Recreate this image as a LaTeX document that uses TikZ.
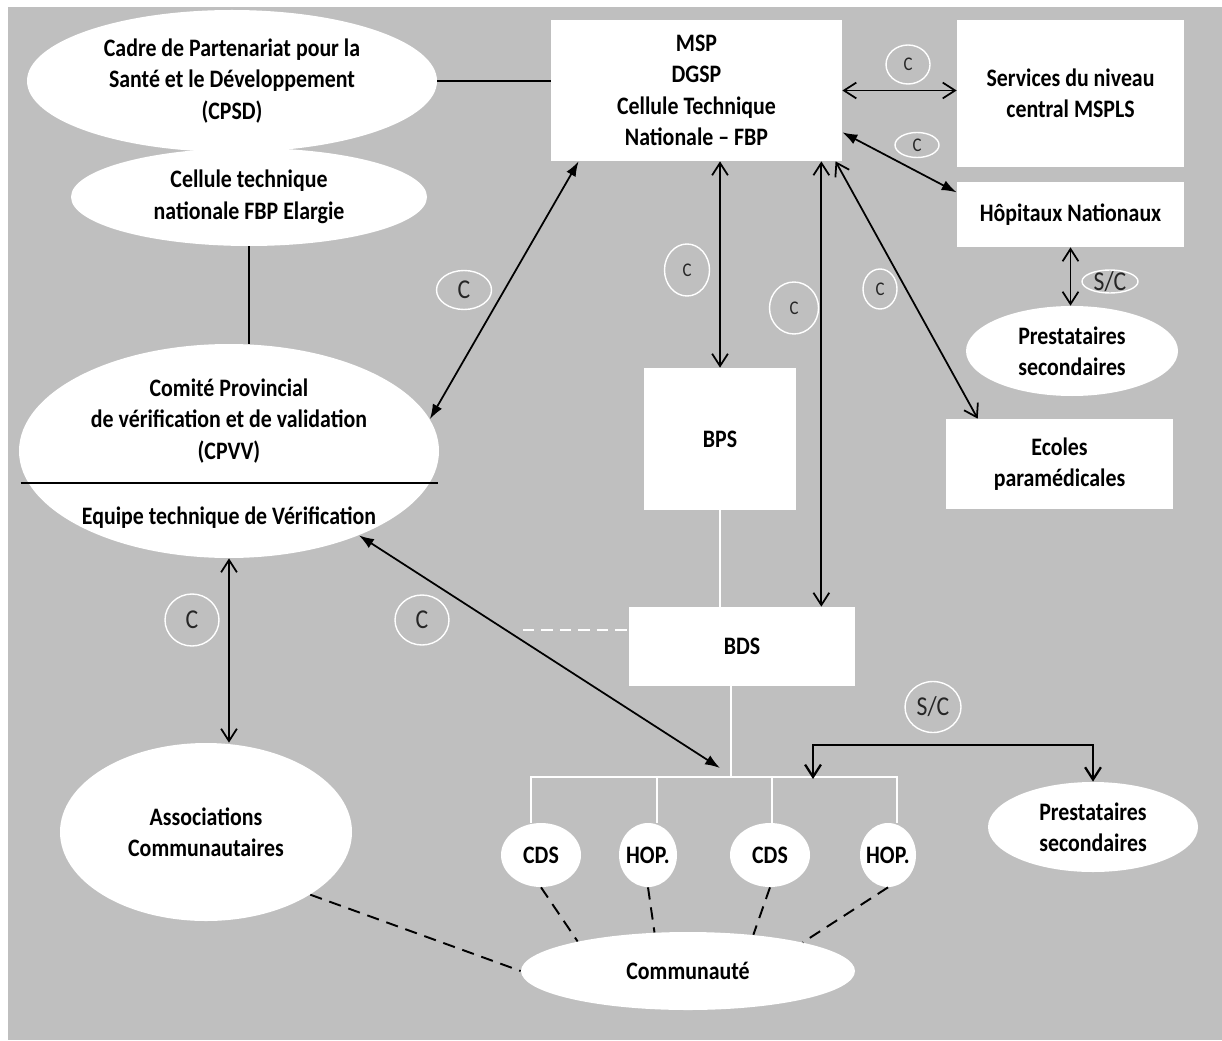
\documentclass[tikz,border=0pt]{standalone}
\usepackage{fontspec}
\setmainfont{Carlito}[FakeStretch=0.87]
\usetikzlibrary{arrows.meta, calc, positioning, shapes.geometric}
\definecolor{panel}{RGB}{191,191,191}

\begin{document}
\begin{tikzpicture}[
	x=0.02cm, y=-0.02cm,
	every node/.style = {align=center, inner sep=0pt, font=\fontsize{14.3}{17.9}\selectfont\bfseries},
	white box/.style 2 args = {rectangle, fill=white, minimum width=#1*0.02cm, minimum height=#2*0.02cm},
	white oval/.style 2 args = {ellipse, fill=white, minimum width=#1*0.02cm, minimum height=#2*0.02cm},
	link tag/.style 2 args = {ellipse, draw=white, line width=0.8pt, inner sep=-4pt, minimum width=#1*0.02cm, minimum height=#2*0.02cm, text=black!85, font=\fontsize{15.5}{15.5}\selectfont},
	small tag/.style = {font=\fontsize{11}{11}\selectfont},
	plain line/.style = {draw=black, line width=1pt},
	open arrows/.style = {draw=black, line width=1pt, {Straight Barb[length=7pt, width=9pt]}-{Straight Barb[length=7pt, width=9pt]}},
	solid arrows/.style = {draw=black, line width=1pt, {Latex[length=8.5pt, width=6pt]}-{Latex[length=8.5pt, width=6pt]}},
	sc arrows/.style = {draw=black, line width=1.3pt, {Straight Barb[length=7pt, width=9pt]}-{Straight Barb[length=7pt, width=9pt]}},
	white line/.style = {draw=white, line width=0.9pt},
	white dashed/.style = {draw=white, line width=1pt, dash pattern=on 6.5pt off 4pt},
	dash line/.style = {draw=black, line width=1.1pt, dash pattern=on 7pt off 4.5pt}
]

\useasboundingbox (0,0) rectangle (1222,1040);
\fill[panel] (8,7) rectangle (1222,1040);

% national level
\node[white oval={410}{142}] (cpsd) at (232,81) {Cadre de Partenariat pour la\\Santé et le Développement\\(CPSD)};
\node[white oval={356}{98}] (fbpe) at (249,197) {Cellule technique\\nationale FBP Elargie};
\node[white box={291}{141}] (msp) at (696.5,90.5) {MSP\\DGSP\\Cellule Technique\\Nationale -- FBP};
\node[white box={227}{147}] (services) at (1070.5,93.5) {Services du niveau\\central MSPLS};
\node[white box={227}{65}] (hopnat) at (1070.5,214.5) {Hôpitaux Nationaux};
\node[white oval={212}{90}] (prest1) at (1072,351) {Prestataires\\secondaires};
\node[white box={227}{90}] (ecoles) at (1059.5,464) {Ecoles\\paramédicales};

% provincial level
\node[white oval={420}{214}] (cpvv) at (229,451) {};
\node (cpvvtext) at (229,421) {Comité Provincial\\de vérification et de validation\\(CPVV)};
\node (etv) at (229,518) {Equipe technique de Vérification};
\node[white box={152}{142}] (bps) at (720,439) {BPS};

% district level
\node[white box={226}{79}] (bds) at (742,646.5) {BDS};
\node[white oval={292}{178}] (assoc) at (206,832) {Associations\\Communautaires};
\node[white oval={80}{64}] (cds1) at (541,855) {CDS};
\node[white oval={58}{64}, inner xsep=-3.5pt] (hop1) at (648,855) {HOP.};
\node[white oval={80}{64}] (cds2) at (770,855) {CDS};
\node[white oval={56}{64}, inner xsep=-3.5pt] (hop2) at (888,855) {HOP.};
\node[white oval={210}{90}] (prest2) at (1093,827) {Prestataires\\secondaires};
\node[white oval={334}{78}] (comm) at (688,971) {Communauté};

% connectors
\draw[plain line] (cpsd.east) -- (cpsd.east -| msp.west);
\draw[plain line] (fbpe.south) -- (fbpe.south |- cpvv.north);
\draw[plain line] ($(cpvv.west)+(2,32)$) -- ($(cpvv.east)+(-1,32)$);
\draw[solid arrows] (msp.211) -- (cpvv.9);
\draw[open arrows] (msp.east) -- (msp.east -| services.west);
\draw[solid arrows] (msp.-16) -- (hopnat.169);
\draw[open arrows] (hopnat.south) -- (hopnat.south |- prest1.north);
\draw[open arrows] (bps.north |- msp.south) -- (bps.north);
\coordinate (bdsin) at ($(bds.north west)!0.85!(bds.north east)$);
\draw[open arrows] (bdsin |- msp.south) -- (bdsin);
\draw[open arrows] (msp.-27) -- (ecoles.151);
\draw[white line] (bps.south) -- (bps.south |- bds.north);
\coordinate (vlink) at (523,630);
\draw[white dashed] (vlink) -- (vlink -| bds.west);
\coordinate (bus) at (731,777);
\draw[white line] (bus |- bds.south) -- (bus);
\draw[white line] ($(cds1.north)+(-10,0)$) |- (bus) -| ($(hop2.north)+(9,0)$);
\draw[white line] ($(hop1.north)+(9,0)$) -- ++(0,-46);
\draw[white line] ($(cds2.north)+(2,0)$) -- ++(0,-46);
\coordinate (ctip) at (720,768);
\draw[solid arrows] (cpvv.-33) -- (ctip);
\draw[open arrows] (cpvv.south) -- (cpvv.south |- assoc.north);
\coordinate (scfoot) at (813,779);
\draw[sc arrows] (scfoot) -- ++(0,-34) -| (prest2.north);
\draw[dash line] (cds1.south) -- (comm.165);
\draw[dash line] (hop1.south) -- (comm.131);
\draw[dash line] (cds2.south) -- (comm.29);
\draw[dash line] (hop2.south) -- (comm.14);
\draw[dash line] (assoc.-31.5) -- (comm.west);

% link tags
\node[link tag={44}{39}, small tag] (tserv) at (908,64.5) {C};
\node[link tag={44}{25}, small tag] (thop) at (917,145) {C};
\node[link tag={55}{39}] (tcpvv) at (464,290) {C};
\node[link tag={45}{52}, small tag] (tbps) at (687,270) {C};
\node[link tag={49}{52}, small tag] (tbds) at (794,308) {C};
\node[link tag={34}{40}, small tag] (tecoles) at (880,289) {C};
\node[link tag={56}{23}] (tprest1) at (1110,281.5) {S/C};
\node[link tag={54}{52}] (tassoc) at (192,620) {C};
\node[link tag={54}{50}] (tetv) at (422,620) {C};
\node[link tag={56}{51}] (tprest2) at (933,707) {S/C};

\end{tikzpicture}
\end{document}
